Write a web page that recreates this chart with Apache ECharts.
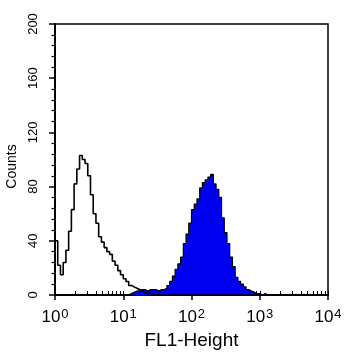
<!DOCTYPE html>
<html><head><meta charset="utf-8">
<script src="https://cdn.jsdelivr.net/npm/echarts@6/dist/echarts.min.js"></script>
<style>html,body{margin:0;padding:0;background:#fff}#c{width:358px;height:360px}</style>
</head><body><div id="c"></div>
<script>
// bin left edges, in log10(FL1-Height) units
const bins = [0.00,0.04,0.08,0.12,0.16,0.20,0.24,0.28,0.32,0.36,0.40,0.44,0.48,0.52,0.56,0.60,0.64,0.68,0.72,0.76,
  0.80,0.84,0.88,0.92,0.96,1.00,1.04,1.08,1.12,1.16,1.20,1.24,1.28,1.32,1.36,1.40,1.44,1.48,1.52,1.56,
  1.60,1.64,1.68,1.72,1.76,1.80,1.84,1.88,1.92,1.96,2.00,2.04,2.08,2.12,2.16,2.20,2.24,2.28,2.32,2.36,
  2.40,2.44,2.48,2.52,2.56,2.60,2.64,2.68,2.72,2.76,2.80,2.84,2.88,2.92,2.96,3.00,3.04,3.08,3.12];
const binWidth = 0.04;
// control (open histogram)
const controlCounts = [40,22,15,24,33,47,63,82,93,103,100,97,88,74,60,53,43,39,35,32,
  30,25,22,18,15,12,10,7,6,5,4,3,2,1,1,0,0,0,0,0,
  0,0,0,0,0,0,0,0,0,0,0,0,0,0,0,0,0,0,0,0,
  0,0,0,0,0,0,0,0,0,0,0,0,0,0,0,0,0,0,0];
// stained sample (filled blue histogram)
const stainedCounts = [0,0,0,0,0,0,0,0,0,0,0,0,0,0,0,0,0,0,0,0,
  0,0,0,0,0,0,0,1,2,3,3,4,4,3,4,4,4,3,4,4,
  5,7,10,14,19,23,28,38,45,53,63,67,71,79,83,85,87,89,82,78,
  72,57,46,38,28,21,13,10,8,6,4,3,2,1,1,0,1,0,0];
const xExponents = [0,1,2,3,4];
const yTicks = [0,40,80,120,160,200];

function toSteps(counts){
  const d = bins.map((b,i)=>[b, counts[i]]);
  d.push([bins[bins.length-1]+binWidth, 0]);
  return d;
}
const minorTickPos = [];
for (let e=0;e<4;e++){ for (let k=1;k<=9;k++){ minorTickPos.push(e+Math.log10(k)); } }
minorTickPos.push(4);

const FONT = 'Liberation Sans';
const chart = echarts.init(document.getElementById('c'), null, {renderer:'canvas'});
chart.setOption({
  animation:false,
  backgroundColor:'#fff',
  grid:{left:55,right:30,top:24,bottom:65,show:true,borderColor:'#000',borderWidth:1.5,outerBoundsMode:'none'},
  xAxis:[{
    type:'value',min:xExponents[0],max:xExponents[xExponents.length-1],interval:1,
    axisLine:{show:true,lineStyle:{color:'#000',width:2}},
    axisTick:{show:true,length:5,lineStyle:{color:'#000',width:1.5}},
    splitLine:{show:false},
    axisLabel:{margin:13,formatter:v=>'{b|10}{s|'+v+'}',
      rich:{b:{fontSize:17,fontFamily:FONT,color:'#000',verticalAlign:'bottom',lineHeight:18},
            s:{fontSize:13,fontFamily:FONT,color:'#000',verticalAlign:'top',lineHeight:18,padding:[0,0,0,1]}}},
    name:'FL1-Height',nameLocation:'middle',nameGap:36,
    nameTextStyle:{fontSize:19,color:'#000',fontFamily:FONT}
  },{
    type:'value',min:0,max:4,position:'bottom',
    axisLine:{show:false},axisLabel:{show:false},splitLine:{show:false},
    axisTick:{show:true,inside:true,length:4,customValues:minorTickPos,lineStyle:{color:'#000',width:1}}
  }],
  yAxis:{
    type:'value',min:yTicks[0],max:yTicks[yTicks.length-1],interval:40,
    axisLine:{show:true,lineStyle:{color:'#000',width:2}},
    axisTick:{show:true,length:6,lineStyle:{color:'#000',width:1.5}},
    minorTick:{show:true,splitNumber:5,length:3.5,lineStyle:{color:'#000',width:1.2}},
    splitLine:{show:false},minorSplitLine:{show:false},
    axisLabel:{rotate:90,margin:15,fontSize:13,color:'#000',fontFamily:FONT},
    name:'Counts',nameLocation:'middle',nameGap:35,nameRotate:90,
    nameTextStyle:{fontSize:14,color:'#000',fontFamily:FONT,padding:[0,14,0,0]}
  },
  series:[
    {type:'line',step:'end',data:toSteps(stainedCounts),symbol:'none',xAxisIndex:0,
     lineStyle:{color:'#000',width:1.2},areaStyle:{color:'#0000f0',opacity:1},z:2},
    {type:'line',step:'end',data:toSteps(controlCounts),symbol:'none',xAxisIndex:0,
     lineStyle:{color:'#000',width:1.6},z:3}
  ]
});
</script></body></html>
